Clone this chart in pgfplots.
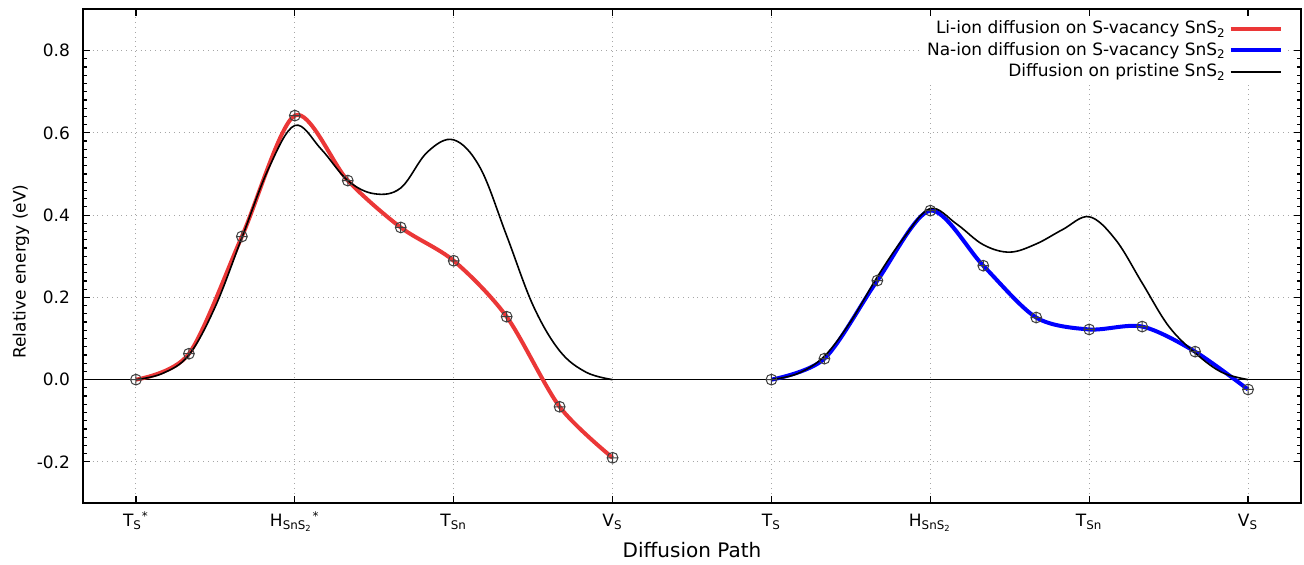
\documentclass[border=0pt]{standalone}
\usepackage{fontspec}
\setmainfont{DejaVu Sans}
\usepackage{pgfplots}
\pgfplotsset{compat=1.18}
\definecolor{lired}{RGB}{235,55,55}
\definecolor{nablue}{RGB}{0,0,255}

\pgfplotstableread{
x y
0        0.000
0.33333  0.063
0.66667  0.348
1.00000  0.642
1.33333  0.484
1.66667  0.370
2.00000  0.289
2.33333  0.153
2.66667  -0.066
3.00000  -0.190
}\litable

\pgfplotstableread{
x y
4.00000  0.000
4.33333  0.051
4.66667  0.241
5.00000  0.411
5.33333  0.277
5.66667  0.151
6.00000  0.122
6.33333  0.129
6.66667  0.068
7.00000  -0.024
}\natable

\pgfplotstableread{
x y
0.00000 0.000
0.16667 0.015
0.33333 0.060
0.50000 0.178
0.66667 0.345
0.83333 0.512
1.00000 0.618
1.16667 0.560
1.33333 0.484
1.50000 0.452
1.66667 0.466
1.83333 0.553
2.00000 0.583
2.16667 0.515
2.33333 0.350
2.50000 0.180
2.66667 0.070
2.83333 0.018
3.00000 0.000
}\pristleft

\pgfplotstableread{
x y
4.00000 0.000
4.16667 0.015
4.33333 0.057
4.50000 0.142
4.66667 0.250
4.83333 0.345
5.00000 0.416
5.16667 0.378
5.33333 0.328
5.50000 0.310
5.66667 0.330
5.83333 0.365
6.00000 0.396
6.16667 0.340
6.33333 0.235
6.50000 0.130
6.66667 0.065
6.83333 0.018
7.00000 0.000
}\pristright

\begin{document}
\begin{tikzpicture}[font=\fontsize{8.5}{10}\selectfont]
\begin{axis}[
  scale only axis,
  width=609pt, height=246.75pt,
  xmin=-0.33333, xmax=7.33333,
  ymin=-0.3, ymax=0.9,
  xtick={0,1,2,3,4,5,6,7},
  xticklabels={
    {T\textsubscript{S}\textsuperscript{*}},
    {H\textsubscript{SnS\textsubscript{2}}\textsuperscript{*}},
    {T\textsubscript{Sn}},
    {V\textsubscript{S}},
    {T\textsubscript{S}},
    {H\textsubscript{SnS\textsubscript{2}}},
    {T\textsubscript{Sn}},
    {V\textsubscript{S}}},
  xticklabel style={anchor=base, yshift=-11.5pt},
  ytick={-0.2,0,0.2,0.4,0.6,0.8},
  minor y tick num=9,
  yticklabel style={xshift=-3pt, /pgf/number format/.cd, fixed, fixed zerofill, precision=1, assume math mode=true},
  tick align=inside,
  major tick length=3.5pt,
  minor tick length=2pt,
  every tick/.style={black, line width=0.6pt},
  axis line style={line width=1pt},
  grid=major,
  grid style={dotted, gray!70, line width=0.5pt},
  xlabel={Diffusion Path},
  ylabel={Relative energy (eV)},
  xlabel style={at={(axis description cs:0.5,0)}, anchor=base, yshift=-27.3pt, font=\fontsize{10}{12}\selectfont},
  ylabel style={at={(axis description cs:-0.0472,0.469)}, anchor=base, font=\fontsize{8.5}{10}\selectfont},
  legend style={at={(rel axis cs:1,1)}, anchor=north east, xshift=-8pt, yshift=-3pt,
    draw=none, fill=white, inner sep=1pt, row sep=-0.2pt,
    nodes={inner sep=1.5pt}},
  legend cell align=right,
  legend plot pos=right,
  legend image code/.code={\draw[#1] (0pt,0pt) -- (25pt,0pt);},
]
\addplot[black, line width=0.5pt, forget plot] coordinates {(-0.33333,0) (7.33333,0)};
\addplot[lired, line width=2pt, smooth] table {\litable};
\addlegendentry{Li-ion diffusion on S-vacancy SnS\textsubscript{2}}
\addplot[nablue, line width=2pt, smooth] table {\natable};
\addlegendentry{Na-ion diffusion on S-vacancy SnS\textsubscript{2}}
\addplot[black, line width=0.8pt, smooth, tension=0.6] table {\pristleft};
\addlegendentry{Diffusion on pristine SnS\textsubscript{2}}
\addplot[black, line width=0.8pt, smooth, tension=0.6, forget plot] table {\pristright};
\addplot[only marks, mark=oplus, mark size=2.7pt, mark options={draw=black!75, fill=none, line width=0.5pt}, forget plot] table {\litable};
\addplot[only marks, mark=oplus, mark size=2.7pt, mark options={draw=black!75, fill=none, line width=0.5pt}, forget plot] table {\natable};
\end{axis}
\path (current axis.south west) ++(-41.5pt,-28.5pt) rectangle ++(652pt,280pt);
\end{tikzpicture}
\end{document}
